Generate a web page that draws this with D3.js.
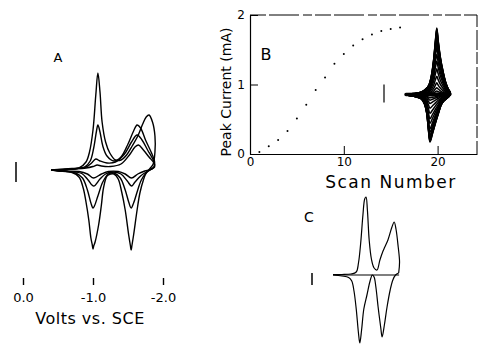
<!DOCTYPE html>
<html>
<head>
<meta charset="utf-8">
<script src="https://d3js.org/d3.v7.min.js"></script>
<style>
  body { margin: 0; background: #fff; }
  svg { display: block; background: #fff; }
  text { font-family: "DejaVu Sans", sans-serif; fill: #000; }
</style>
</head>
<body>
<svg id="fig" width="481" height="346"></svg>
<script>
// ---- panel B: peak current vs scan number
const scanNumbers = [1, 2, 3, 4, 5, 6, 7, 8, 9, 10, 11, 12, 13, 14, 15, 16];
const peakCurrent = [0.03, 0.11, 0.2, 0.33, 0.51, 0.71, 0.92, 1.1, 1.3, 1.44, 1.56, 1.65, 1.72, 1.77, 1.8, 1.82];
const scanTicks = [0, 10, 20];
const currentTicks = [0, 1, 2];

// ---- panel A: repeated cyclic voltammograms, [E (V vs SCE), current (arb.)]
const voltTicks = [0, -1, -2];
const voltLabels = ["0.0", "-1.0", "-2.0"];
const cvA1 = [[-0.40,0],[-0.70,0.1],[-0.90,0.2],[-1.00,0.35],[-1.06,0.5],[-1.12,0.4],[-1.25,0.35],[-1.40,0.6],[-1.52,1.5],[-1.60,2.3],[-1.65,2.5],[-1.72,2.0],[-1.80,1.3],[-1.87,0.7],[-1.88,0.3],
  [-1.84,0.1],[-1.74,-0.1],[-1.64,-0.4],[-1.55,-0.8],[-1.46,-0.4],[-1.36,-0.15],[-1.22,-0.15],[-1.12,-0.4],[-1.01,-0.8],[-0.92,-0.4],[-0.80,-0.15],[-0.60,-0.1],[-0.40,0]];
const cvA2 = [[-0.40,0],[-0.70,0.15],[-0.90,0.3],[-0.98,0.7],[-1.04,1.1],[-1.10,0.9],[-1.20,0.7],[-1.32,0.8],[-1.45,1.6],[-1.55,2.8],[-1.63,3.5],[-1.70,3.0],[-1.78,2.0],[-1.86,1.0],[-1.88,0.4],
  [-1.84,0.1],[-1.76,-0.2],[-1.68,-0.6],[-1.60,-1.2],[-1.55,-1.6],[-1.49,-1.1],[-1.40,-0.4],[-1.28,-0.2],[-1.18,-0.4],[-1.10,-0.9],[-1.01,-1.6],[-0.93,-1.0],[-0.84,-0.35],[-0.65,-0.15],[-0.40,0]];
const cvA3 = [[-0.40,0],[-0.70,0.1],[-0.88,0.3],[-0.96,0.9],[-1.01,2.2],[-1.05,3.9],[-1.07,4.5],[-1.10,3.8],[-1.14,2.4],[-1.20,1.4],[-1.30,0.9],[-1.40,1.3],[-1.50,2.6],[-1.58,3.9],[-1.63,4.5],[-1.68,4.2],[-1.75,3.0],[-1.83,1.8],[-1.88,0.8],[-1.87,0.3],
  [-1.83,0.1],[-1.76,-0.3],[-1.69,-1.0],[-1.63,-2.2],[-1.58,-3.3],[-1.545,-3.8],[-1.51,-3.2],[-1.46,-2.0],[-1.39,-0.8],[-1.30,-0.3],[-1.22,-0.4],[-1.14,-1.2],[-1.07,-2.6],[-1.02,-3.6],[-1.00,-3.8],[-0.97,-3.3],[-0.92,-2.0],[-0.85,-0.8],[-0.75,-0.3],[-0.55,-0.1],[-0.40,0]];
const cvA4 = [[-0.40,0],[-0.60,0.05],[-0.80,0.2],[-0.90,0.8],[-0.95,1.8],[-1.00,4.0],[-1.04,7.5],[-1.07,9.7],[-1.10,7.8],[-1.13,4.8],[-1.18,2.8],[-1.24,1.7],[-1.32,1.0],[-1.40,1.0],[-1.48,1.5],[-1.56,2.4],[-1.64,3.4],[-1.71,4.6],[-1.76,5.3],[-1.80,5.5],[-1.85,4.8],[-1.885,3.4],[-1.885,1.8],[-1.86,0.6],
  [-1.82,0.2],[-1.76,-0.3],[-1.72,-1.0],[-1.67,-2.3],[-1.63,-4.0],[-1.58,-6.5],[-1.555,-7.6],[-1.545,-8.0],[-1.535,-7.6],[-1.51,-6.5],[-1.46,-4.0],[-1.41,-2.2],[-1.36,-0.9],[-1.30,-0.4],[-1.25,-0.4],[-1.20,-0.6],[-1.15,-1.8],[-1.12,-3.5],[-1.08,-5.5],[-1.03,-7.2],[-1.01,-7.6],[-1.00,-7.9],[-0.99,-7.5],[-0.97,-6.8],[-0.94,-5.0],[-0.90,-3.2],[-0.86,-1.8],[-0.80,-0.7],[-0.70,-0.25],[-0.50,-0.1],[-0.40,0]];
const cyclesA = [cvA1, cvA2, cvA3, cvA4];

// ---- panel C: single voltammogram
const cvCUpper = [[-0.40,0.05],[-0.60,0.05],[-0.80,0.1],[-0.92,0.3],[-0.97,1.2],[-1.02,3.2],[-1.07,6.0],[-1.11,7.6],[-1.14,7.8],[-1.17,6.5],[-1.21,3.5],[-1.26,1.6],[-1.32,0.7],[-1.385,0.5],[-1.45,1.5],[-1.52,2.4],[-1.56,2.8],[-1.63,3.5],[-1.72,4.8],[-1.77,5.3],[-1.81,4.6],[-1.86,2.8],[-1.89,1.3],[-1.87,0.2]];
const cvCLower = [[-1.87,0.2],[-1.80,0],[-1.74,-0.5],[-1.68,-1.5],[-1.61,-3.2],[-1.55,-5.0],[-1.50,-6.2],[-1.47,-5.3],[-1.41,-3.2],[-1.36,-1.2],[-1.32,-0.2],[-1.28,0],[-1.23,-0.6],[-1.16,-2.0],[-1.09,-3.4],[-1.04,-5.5],[-1.00,-6.8],[-0.97,-5.8],[-0.92,-3.4],[-0.87,-1.6],[-0.82,-0.6],[-0.75,-0.25],[-0.60,-0.1],[-0.40,0]];
const cvCBase = [[-0.40,0],[-1.88,0]];

// ---- inset in B: largest scan, every scan scaled by its peak current
const insetUpper = [[-0.50,0.1],[-0.70,0.15],[-0.85,0.3],[-0.95,0.6],[-1.02,1.0],[-1.08,2.0],[-1.13,3.6],[-1.17,5.5],[-1.20,6.7],[-1.23,5.5],[-1.28,3.8],[-1.34,2.4],[-1.40,1.3],[-1.46,0.6],[-1.50,0.3]];
const insetLower = [[-1.50,0.0],[-1.44,-0.3],[-1.36,-0.6],[-1.30,-1.0],[-1.24,-1.8],[-1.17,-2.8],[-1.10,-3.9],[-1.045,-4.7],[-1.01,-3.5],[-0.97,-1.8],[-0.92,-0.9],[-0.85,-0.4],[-0.70,-0.15],[-0.50,0.0]];

const svg = d3.select("#fig");

// ================= panel A
const xA = d3.scaleLinear().domain([0, -2]).range([23, 163]);
const yA = d3.scaleLinear().domain([-8, 10]).range([250, 70]);
const lineA = d3.line().x(d => xA(d[0])).y(d => yA(d[1])).curve(d3.curveCatmullRom.alpha(0.5));

svg.append("g").selectAll("path")
  .data(cyclesA)
  .join("path")
  .attr("d", lineA)
  .attr("fill", "none")
  .attr("stroke", "#000")
  .attr("stroke-width", 1.4);

svg.append("g")
  .attr("transform", "translate(0,278)")
  .call(d3.axisBottom(xA).tickValues(voltTicks).tickSize(7).tickPadding(8).tickFormat((d, i) => voltLabels[i]))
  .call(g => g.select(".domain").remove())
  .call(g => g.selectAll("line").attr("stroke", "#000").attr("stroke-width", 1.4))
  .call(g => g.selectAll("text").attr("font-size", 13).attr("font-family", "DejaVu Sans").attr("fill", "#000"));

svg.append("text").attr("x", 90).attr("y", 324).attr("text-anchor", "middle")
  .attr("font-size", 16).attr("letter-spacing", 0.5).text("Volts vs. SCE");
svg.append("text").attr("x", 58).attr("y", 62).attr("text-anchor", "middle")
  .attr("font-size", 13).text("A");
// current scale bar
svg.append("line").attr("x1", 16).attr("x2", 16).attr("y1", yA(0.8)).attr("y2", yA(-1.2))
  .attr("stroke", "#000").attr("stroke-width", 1.5);

// ================= panel B
const xB = d3.scaleLinear().domain([0, 24.2]).range([250, 477]);
const yB = d3.scaleLinear().domain([0, 2]).range([154, 15]);

svg.append("path")
  .attr("d", `M${xB(0)},${yB(2)}H${xB(24.2)}`)
  .attr("stroke", "#000").attr("stroke-dasharray", "16,3,30,4,9,3").attr("stroke-width", 1);
svg.append("path")
  .attr("d", `M${xB(24.2)},${yB(2)}V${yB(0)}`)
  .attr("stroke", "#000").attr("stroke-dasharray", "12,3,20,2").attr("stroke-width", 1);

svg.append("g")
  .attr("transform", `translate(${xB(0)},0)`)
  .call(d3.axisLeft(yB).tickValues(currentTicks).tickSize(-8).tickPadding(5).tickSizeOuter(0).tickFormat(d3.format("d")))
  .call(g => g.select(".domain").attr("stroke-width", 1.2))
  .call(g => g.selectAll("text").attr("font-size", 12).attr("font-family", "DejaVu Sans").attr("fill", "#000"));

svg.append("g")
  .attr("transform", `translate(0,${yB(0)})`)
  .call(d3.axisBottom(xB).tickValues(scanTicks).tickSize(-8).tickPadding(3).tickSizeOuter(0).tickFormat(d3.format("d")))
  .call(g => g.select(".domain").attr("stroke-width", 1.2))
  .call(g => g.selectAll("text").attr("font-size", 12).attr("font-family", "DejaVu Sans").attr("fill", "#000"));

svg.append("g").selectAll("circle")
  .data(scanNumbers)
  .join("circle")
  .attr("cx", d => xB(d))
  .attr("cy", (d, i) => yB(peakCurrent[i]))
  .attr("r", 1)
  .attr("fill", "#000");

svg.append("text").attr("transform", "translate(231,92) rotate(-90)").attr("text-anchor", "middle")
  .attr("font-size", 14).text("Peak Current (mA)");
svg.append("text").attr("x", 391).attr("y", 188).attr("text-anchor", "middle")
  .attr("font-size", 17).attr("letter-spacing", 1.5).text("Scan Number");
svg.append("text").attr("x", 266).attr("y", 60).attr("text-anchor", "middle")
  .attr("font-size", 16).text("B");

// inset voltammograms
const xI = d3.scaleLinear().domain([-0.5, -1.5]).range([406, 450]);
const yI = d3.scaleLinear().domain([-5, 7]).range([145, 25]);
const peakMax = d3.max(peakCurrent);
const lineI = d3.line().x(d => xI(d[0])).y(d => yI(d[1])).curve(d3.curveCatmullRom.alpha(0.5));
svg.append("g").selectAll("path")
  .data(peakCurrent)
  .join("path")
  .attr("d", p => lineI(insetUpper.concat(insetLower).map(d => [d[0], d[1] * p / peakMax])))
  .attr("fill", "none")
  .attr("stroke", "#000")
  .attr("stroke-width", 1.5);
svg.append("path")
  .attr("d", lineI([[-0.5, 0.05], [-1.5, 0.1]]))
  .attr("stroke", "#000").attr("stroke-width", 3.5).attr("stroke-linecap", "round");
svg.append("line").attr("x1", 384).attr("x2", 384).attr("y1", yB(1.0)).attr("y2", yB(0.74))
  .attr("stroke", "#000").attr("stroke-width", 1.2);

// ================= panel C
const xC = d3.scaleLinear().domain([-0.4, -1.9]).range([333, 400]);
const yC = d3.scaleLinear().domain([-7, 8.5]).range([345, 190]);
const lineC = d3.line().x(d => xC(d[0])).y(d => yC(d[1])).curve(d3.curveCatmullRom.alpha(0.5));
svg.append("g").selectAll("path")
  .data([cvCBase, cvCUpper, cvCLower])
  .join("path")
  .attr("d", lineC)
  .attr("fill", "none")
  .attr("stroke", "#000")
  .attr("stroke-width", 1.2);
svg.append("text").attr("x", 309).attr("y", 222).attr("text-anchor", "middle")
  .attr("font-size", 14).text("C");
svg.append("line").attr("x1", 312).attr("x2", 312).attr("y1", yC(0.2)).attr("y2", yC(-1.0))
  .attr("stroke", "#000").attr("stroke-width", 1.5);
</script>
</body>
</html>
